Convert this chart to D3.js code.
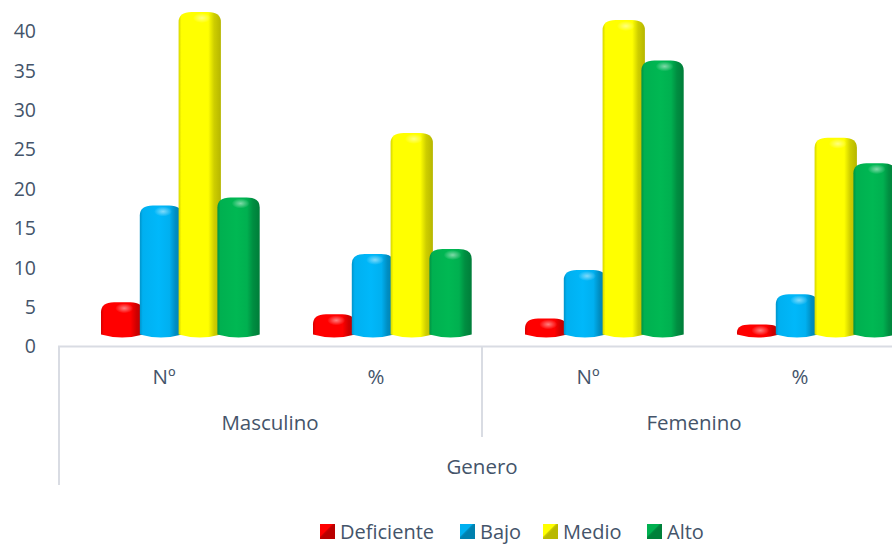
<!DOCTYPE html>
<html>
<head>
<meta charset="utf-8">
<script src="https://cdn.jsdelivr.net/npm/d3@7"></script>
<style>
html,body{margin:0;padding:0;background:#fff;}
svg{display:block;font-family:"Open Sans",sans-serif;}
</style>
</head>
<body>
<svg id="chart" width="892" height="545"></svg>
<script>
// ---- data ----
const groups = ["Masculino", "Femenino"];
const subCategories = ["Nº", "%", "Nº", "%"];
const series = ["Deficiente", "Bajo", "Medio", "Alto"];
const deficiente = [4, 2.5, 2, 1.25];
const bajo = [16, 10, 8, 5];
const medio = [40, 25, 39, 24.4];
const alto = [17, 10.6, 34, 21.25];
const yTicks = [0, 5, 10, 15, 20, 25, 30, 35, 40];
const axisTitle = "Genero";
const colors = ["#FF0000", "#00B0F0", "#FFFF00", "#00B050"];

const values = [deficiente, bajo, medio, alto];

const svg = d3.select("#chart");
const textColor = "#44546A";
const lineColor = "#D9DCE3";

// scales
const x0 = d3.scaleBand().domain(d3.range(subCategories.length)).range([58, 906]).padding(0);
const x1 = d3.scaleBand().domain(series).range([43, 43 + 4 * 38.8]).padding(0);
const yBar = d3.scaleLinear().domain([0, 40]).range([337.5, 15]);
const yLab = d3.scaleLinear().domain([0, 40]).range([346.5, 31.5]);

// gradients
const defs = svg.append("defs");
function shade(c, k) { return d3.color(c).darker(k).formatHex(); }
colors.forEach((c, i) => {
  const g = defs.append("linearGradient").attr("id", "g" + i)
    .attr("x1", "0").attr("x2", "1").attr("y1", "0").attr("y2", "0");
  g.append("stop").attr("offset", "0").attr("stop-color", shade(c, 0.5));
  g.append("stop").attr("offset", "0.07").attr("stop-color", c);
  g.append("stop").attr("offset", "0.45").attr("stop-color", d3.color(c).brighter(0.12).formatHex());
  g.append("stop").attr("offset", "0.7").attr("stop-color", c);
  g.append("stop").attr("offset", "0.84").attr("stop-color", shade(c, 0.6));
  g.append("stop").attr("offset", "1").attr("stop-color", shade(c, 0.95));
});
const hl = defs.append("radialGradient").attr("id", "hl");
hl.append("stop").attr("offset", "0").attr("stop-color", "#fff").attr("stop-opacity", 0.5);
hl.append("stop").attr("offset", "1").attr("stop-color", "#fff").attr("stop-opacity", 0);

// y tick labels
svg.append("g").selectAll("text").data(yTicks).join("text")
  .attr("x", 36).attr("y", d => yLab(d)).attr("dy", "0.35em")
  .attr("text-anchor", "end").attr("font-size", 19.5).attr("fill", textColor)
  .text(d => d);

// axis lines
const ax = svg.append("g").attr("stroke", lineColor).attr("stroke-width", 2).attr("fill", "none");
ax.append("line").attr("x1", 58).attr("x2", 892).attr("y1", yLab(0)).attr("y2", yLab(0));
ax.append("line").attr("x1", 59).attr("x2", 59).attr("y1", yLab(0)).attr("y2", 485);
ax.append("line").attr("x1", x0(2)).attr("x2", x0(2)).attr("y1", yLab(0)).attr("y2", 437);

// bars
function barPath(x, w, top, base) {
  const h = base - top;
  const rx = Math.min(13, w / 2);
  const ry = Math.min(10, h * 0.6);
  const rb = 3;
  return `M${x},${base - rb}` +
    `L${x},${top + ry}` +
    `Q${x},${top} ${x + rx},${top}` +
    `L${x + w - rx},${top}` +
    `Q${x + w},${top} ${x + w},${top + ry}` +
    `L${x + w},${base - rb}` +
    `Q${x + w / 2},${base + rb} ${x},${base - rb}Z`;
}
const barW = x1.bandwidth() + 3.5;
const barG = svg.append("g");
subCategories.forEach((sc, ci) => {
  series.forEach((s, si) => {
    const v = values[si][ci];
    const bx = x0(ci) + x1(s);
    const top = yBar(v) - 3;
    const base = yBar(0);
    barG.append("path").attr("d", barPath(bx, barW, top, base)).attr("fill", `url(#g${si})`);
    barG.append("ellipse").attr("cx", bx + barW * 0.55).attr("cy", top + 6)
      .attr("rx", 9).attr("ry", 5).attr("fill", "url(#hl)");
  });
});

// category labels
const lab = svg.append("g").attr("font-size", 20.5).attr("fill", textColor).attr("text-anchor", "middle");
lab.selectAll(".sub").data(subCategories).join("text").attr("class", "sub")
  .attr("x", (d, i) => x0(i) + x0.bandwidth() / 2).attr("y", 377).attr("dy", "0.35em").text(d => d);
lab.selectAll(".grp").data(groups).join("text").attr("class", "grp")
  .attr("x", (d, i) => x0(i * 2) + x0.bandwidth()).attr("y", 423).attr("dy", "0.35em").text(d => d);
lab.append("text").attr("x", 482).attr("y", 467).attr("dy", "0.35em").text(axisTitle);

// legend
const legendX = [320, 460, 543, 647];
const lg = svg.append("g");
series.forEach((s, i) => {
  const g = lg.append("g").attr("transform", `translate(${legendX[i]},524)`);
  g.append("rect").attr("width", 15).attr("height", 15).attr("fill", shade(colors[i], 0.7));
  g.append("path").attr("d", "M0,15 L15,0 L15,15 Z").attr("fill", shade(colors[i], 0.9));
  g.append("path").attr("d", "M0,0 L13,0 L0,13 Z").attr("fill", colors[i]);
  g.append("text").attr("x", 20).attr("y", 7.5).attr("dy", "0.36em")
    .attr("font-size", 20).attr("fill", textColor).text(s);
});
</script>
</body>
</html>
